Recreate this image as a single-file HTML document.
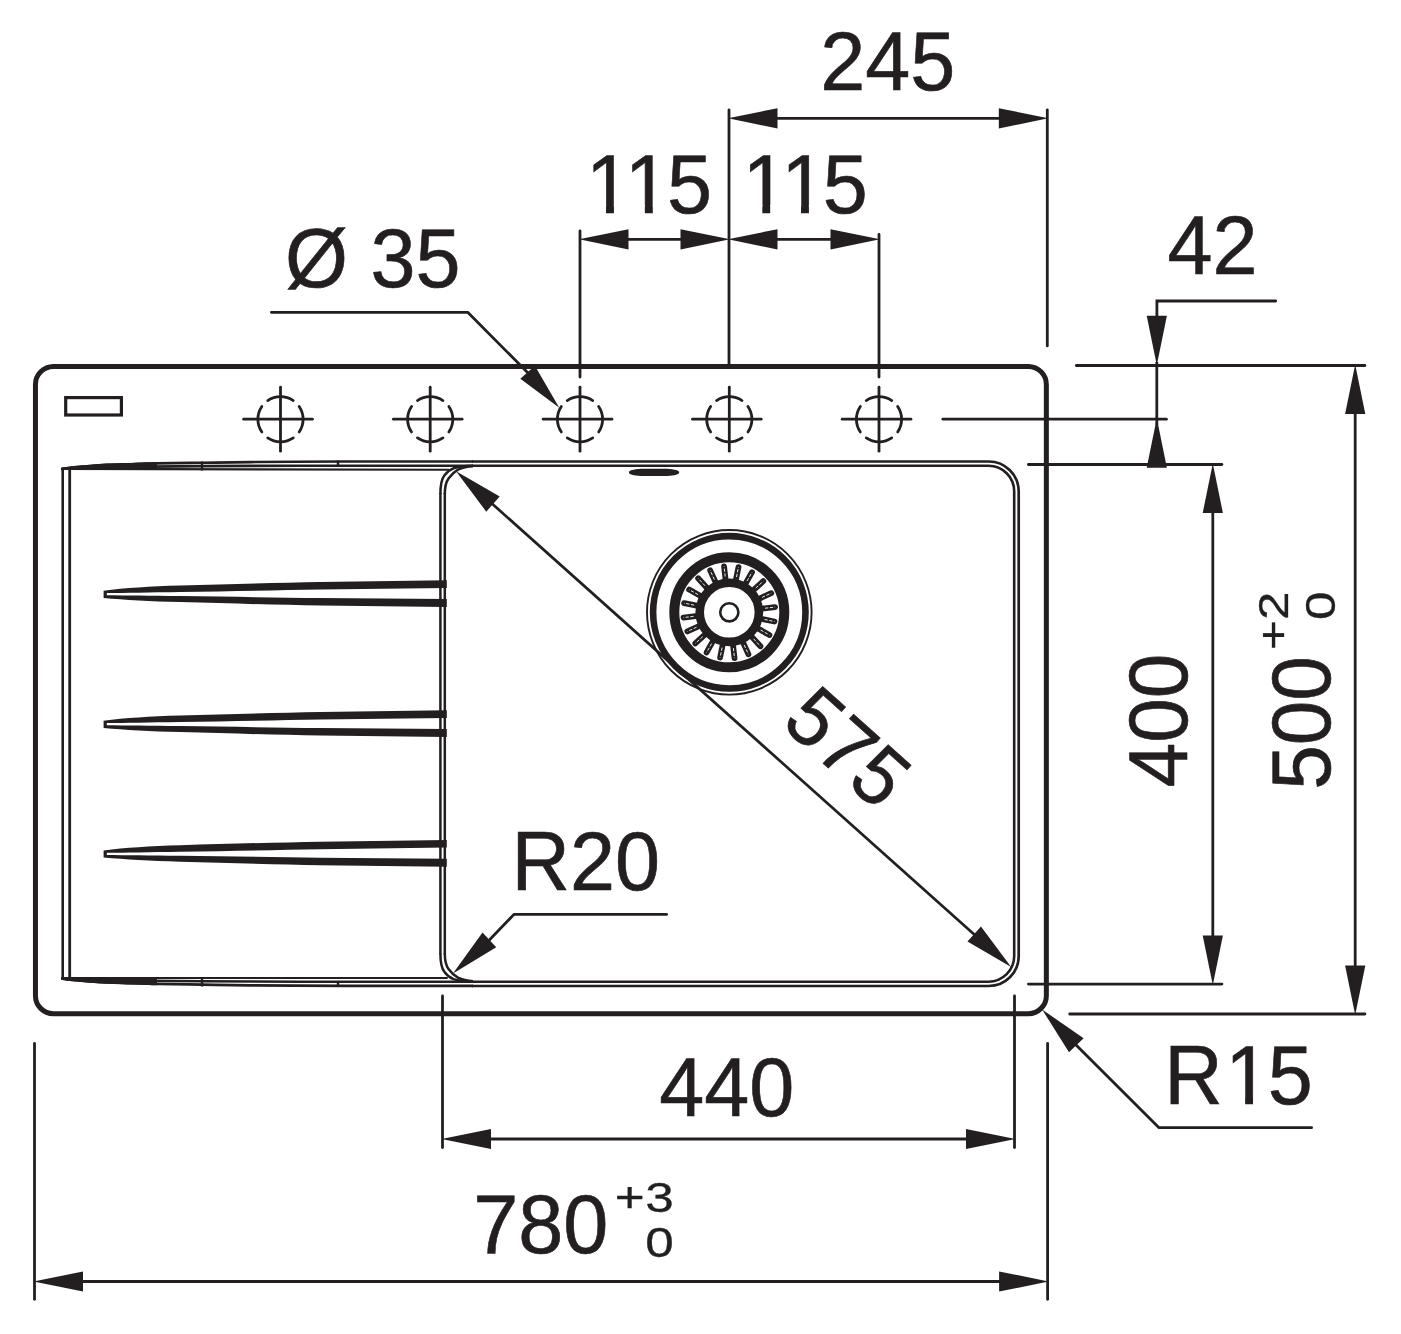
<!DOCTYPE html>
<html lang="en"><head><meta charset="utf-8"><title>Sink drawing 780 x 500</title>
<style>
html,body{margin:0;padding:0;background:#fff;}
svg{display:block;}
.s{fill:none;stroke:#231f20;}
.f{fill:#231f20;stroke:none;}
text{font-family:"Liberation Sans",sans-serif;fill:#231f20;stroke:#231f20;stroke-width:0.6px;}
text.t{stroke-width:0.3px;filter:grayscale(1);}
</style></head><body>
<svg width="1401" height="1334" viewBox="0 0 1401 1334">
<rect x="0" y="0" width="1401" height="1334" fill="#fff"/>
<g class="s">
<rect x="35.45" y="366.55" width="1010.9" height="647.1" rx="18" ry="18" stroke-width="5"/>
<rect x="65.7" y="397.6" width="55.7" height="17.4" stroke-width="3.2"/>
<path d="M472,461.5 H988.7 A30,30 0 0 1 1018.7,491.5 V956 A30,30 0 0 1 988.7,986 H472" stroke-width="2.7"/>
<path d="M472,465.7 H988.5 A25.7,25.7 0 0 1 1014.2,491.4 V956 A25.7,25.7 0 0 1 988.5,981.7 H472" stroke-width="2.6"/>
<path d="M440.4,494 C440.4,484 442,478.5 444.5,475.3 C446.5,472.5 449.5,469.8 453.5,468.3 C459,466.5 466,465.9 473,465.7" stroke-width="2.5"/>
<path d="M444.8,494 C444.8,486 446,482 448.5,478.5 C451,475 454,472 458,469.7 C462,467.7 467,466.5 473,466.2" stroke-width="2.5"/>
<path d="M440.4,953.4 C440.4,963.4 442,968.9 444.5,972.1 C446.5,974.9 449.5,977.6 453.5,979.1 C459,980.9 466,981.5 473,981.7" stroke-width="2.5"/>
<path d="M444.8,953.4 C444.8,961.4 446,965.4 448.5,968.9 C451,972.4 454,975.4 458,977.7 C462,979.7 467,980.9 473,981.2" stroke-width="2.5"/>
<line x1="440.4" y1="493" x2="440.4" y2="954.4" stroke-width="2.5" stroke-linecap="butt" />
<line x1="444.8" y1="493" x2="444.8" y2="954.4" stroke-width="2.5" stroke-linecap="butt" />
<line x1="62.7" y1="468" x2="62.7" y2="979" stroke-width="2.6" stroke-linecap="butt" />
<line x1="69.7" y1="468" x2="69.7" y2="979" stroke-width="2.8" stroke-linecap="butt" />
<path d="M61.3,469.05 C62.75,468.83 65.22,468.25 70,467.75 C74.78,467.25 83.83,466.52 90,466.05 C96.17,465.58 100.33,465.25 107,464.95 C113.67,464.65 121.67,464.50 130,464.25 C138.33,464.00 145.00,463.70 157,463.45 C169.00,463.20 186.50,462.98 202,462.75 C217.50,462.52 226.17,462.26 250,462.05 C273.83,461.84 329.17,461.59 345,461.5 H473" stroke-width="2.7"/>
<path d="M150,466.6 C200,466.1 260,465.7 300,465.7 H473" stroke-width="2.6"/>
<path d="M61.3,468.9 L449,469.8" stroke-width="2.1"/>
<path d="M61.3,467.7 C62.75,467.48 65.22,466.90 70,466.4 C74.78,465.90 83.83,465.17 90,464.7 C96.17,464.23 100.33,463.90 107,463.6 C113.67,463.30 121.67,463.15 130,462.9 C138.33,462.65 152.50,462.23 157,462.1 V469.9 H61.3 Z" fill="#231f20" stroke="none"/>
<path d="M61.3,978.35 C62.75,978.57 65.22,979.15 70,979.65 C74.78,980.15 83.83,980.88 90,981.35 C96.17,981.82 100.33,982.15 107,982.45 C113.67,982.75 121.67,982.90 130,983.15 C138.33,983.40 145.00,983.70 157,983.95 C169.00,984.20 186.50,984.42 202,984.65 C217.50,984.88 226.17,985.14 250,985.35 C273.83,985.56 329.17,985.81 345,985.9 H473" stroke-width="2.7"/>
<path d="M150,980.8 C200,981.3 260,981.7 300,981.7 H473" stroke-width="2.6"/>
<path d="M61.3,978.0 L447.7,978.0" stroke-width="2.1"/>
<path d="M61.3,979.7 C62.75,979.92 65.22,980.50 70,981.0 C74.78,981.50 83.83,982.23 90,982.7 C96.17,983.17 100.33,983.50 107,983.8 C113.67,984.10 121.67,984.25 130,984.5 C138.33,984.75 152.50,985.17 157,985.3 V977.0 H61.3 Z" fill="#231f20" stroke="none"/>
<line x1="202" y1="461.5" x2="202" y2="470.5" stroke-width="2.4" stroke-linecap="butt" />
<line x1="338" y1="460.5" x2="338" y2="466.5" stroke-width="2.4" stroke-linecap="butt" />
<line x1="202" y1="977.5" x2="202" y2="986.5" stroke-width="2.4" stroke-linecap="butt" />
<line x1="338" y1="981" x2="338" y2="987" stroke-width="2.4" stroke-linecap="butt" />
</g>
<g class="f">
<path d="M628.9,472.4 C628.9,470.4 633,469.5 641,468.8 H667 C675,469.5 679.2,470.4 679.2,472.4 C679.2,474.4 675,475.3 667,476 H641 C633,475.3 628.9,474.4 628.9,472.4 Z"/>
</g>
<g class="f">
<path d="M103.6,590.7 C125,588.0 150,586.4 180,585.5 C230,583.9 280,582.8 320,582.0 L446.8,580.3 V587.9 L320,589.5 C280,590.3 230,591.2 180,592.0 C150,592.5 125,592.9 106.8,593.1 V595.2 C125,595.4 150,595.7 180,596.1 C230,596.8 280,597.5 320,598.1 L446.8,599.1 V607.1 L320,605.6 C280,604.8 230,603.6 180,602.1 C150,601.2 125,599.9 103.6,597.9 Z"/>
<path d="M103.6,720.7 C125,718.0 150,716.4 180,715.5 C230,713.9 280,712.8 320,712.0 L446.8,710.3 V717.9 L320,719.5 C280,720.3 230,721.2 180,722.0 C150,722.5 125,722.9 106.8,723.1 V725.2 C125,725.4 150,725.7 180,726.1 C230,726.8 280,727.5 320,728.1 L446.8,729.1 V737.1 L320,735.6 C280,734.8 230,733.6 180,732.1 C150,731.2 125,729.9 103.6,727.9 Z"/>
<path d="M103.6,850.4 C125,847.7 150,846.1 180,845.2 C230,843.6 280,842.5 320,841.7 L446.8,840.0 V847.6 L320,849.2 C280,850.0 230,850.9 180,851.7 C150,852.2 125,852.6 106.8,852.8 V854.9 C125,855.1 150,855.4 180,855.8 C230,856.5 280,857.2 320,857.8 L446.8,858.8 V866.8 L320,865.3 C280,864.5 230,863.3 180,861.8 C150,860.9 125,859.6 103.6,857.6 Z"/>
</g>
<g class="s">
<line x1="243.7" y1="419.2" x2="312.4" y2="419.2" stroke-width="2.8" stroke-linecap="round" />
<line x1="280.5" y1="387.2" x2="280.5" y2="451.2" stroke-width="2.8" stroke-linecap="round" />
<circle cx="280.5" cy="419.2" r="22.6" stroke-width="2.8" stroke-linecap="round" pathLength="360" stroke-dasharray="69 21" stroke-dashoffset="34.5"/>
<line x1="393.4" y1="419.2" x2="462.1" y2="419.2" stroke-width="2.8" stroke-linecap="round" />
<line x1="430.2" y1="387.2" x2="430.2" y2="451.2" stroke-width="2.8" stroke-linecap="round" />
<circle cx="430.2" cy="419.2" r="22.6" stroke-width="2.8" stroke-linecap="round" pathLength="360" stroke-dasharray="69 21" stroke-dashoffset="34.5"/>
<line x1="543.2" y1="419.2" x2="611.9" y2="419.2" stroke-width="2.8" stroke-linecap="round" />
<line x1="580.0" y1="387.2" x2="580.0" y2="451.2" stroke-width="2.8" stroke-linecap="round" />
<circle cx="580" cy="419.2" r="22.6" stroke-width="2.8" stroke-linecap="round" pathLength="360" stroke-dasharray="69 21" stroke-dashoffset="34.5"/>
<line x1="692.5" y1="419.2" x2="761.2" y2="419.2" stroke-width="2.8" stroke-linecap="round" />
<line x1="729.3" y1="387.2" x2="729.3" y2="451.2" stroke-width="2.8" stroke-linecap="round" />
<circle cx="729.3" cy="419.2" r="22.6" stroke-width="2.8" stroke-linecap="round" pathLength="360" stroke-dasharray="69 21" stroke-dashoffset="34.5"/>
<line x1="842.2" y1="419.2" x2="910.9" y2="419.2" stroke-width="2.8" stroke-linecap="round" />
<line x1="879.0" y1="387.2" x2="879.0" y2="451.2" stroke-width="2.8" stroke-linecap="round" />
<circle cx="879" cy="419.2" r="22.6" stroke-width="2.8" stroke-linecap="round" pathLength="360" stroke-dasharray="69 21" stroke-dashoffset="34.5"/>
</g>
<g>
<circle class="s" cx="729.3" cy="612.3" r="82.3" stroke-width="1.9"/>
<circle class="s" cx="729.3" cy="612.3" r="76.2" stroke-width="6.6"/>
<circle class="s" cx="729.3" cy="612.3" r="55" stroke-width="10"/>
<circle class="s" cx="729.3" cy="612.3" r="29.6" stroke-width="8.6"/>
<circle class="s" cx="729.3" cy="612.3" r="9.1" stroke-width="2.6"/>
<line x1="725.68" y1="580.51" x2="724.08" y2="566.50" stroke="#231f20" stroke-width="5.8" stroke-linecap="round"/>
<line x1="725.22" y1="576.53" x2="724.08" y2="566.50" stroke="#fff" stroke-width="0.9" stroke-dasharray="3.2 1.6" stroke-linecap="butt"/>
<line x1="735.68" y1="580.94" x2="738.49" y2="567.13" stroke="#231f20" stroke-width="5.8" stroke-linecap="round"/>
<line x1="736.48" y1="577.02" x2="738.49" y2="567.13" stroke="#fff" stroke-width="0.9" stroke-dasharray="3.2 1.6" stroke-linecap="butt"/>
<line x1="745.06" y1="584.45" x2="752.00" y2="572.18" stroke="#231f20" stroke-width="5.8" stroke-linecap="round"/>
<line x1="747.03" y1="580.97" x2="752.00" y2="572.18" stroke="#fff" stroke-width="0.9" stroke-dasharray="3.2 1.6" stroke-linecap="butt"/>
<line x1="752.89" y1="590.68" x2="763.29" y2="581.16" stroke="#231f20" stroke-width="5.8" stroke-linecap="round"/>
<line x1="755.84" y1="587.98" x2="763.29" y2="581.16" stroke="#fff" stroke-width="0.9" stroke-dasharray="3.2 1.6" stroke-linecap="butt"/>
<line x1="758.42" y1="599.03" x2="771.25" y2="593.18" stroke="#231f20" stroke-width="5.8" stroke-linecap="round"/>
<line x1="762.06" y1="597.37" x2="771.25" y2="593.18" stroke="#fff" stroke-width="0.9" stroke-dasharray="3.2 1.6" stroke-linecap="butt"/>
<line x1="761.09" y1="608.68" x2="775.10" y2="607.08" stroke="#231f20" stroke-width="5.8" stroke-linecap="round"/>
<line x1="765.07" y1="608.22" x2="775.10" y2="607.08" stroke="#fff" stroke-width="0.9" stroke-dasharray="3.2 1.6" stroke-linecap="butt"/>
<line x1="760.66" y1="618.68" x2="774.47" y2="621.49" stroke="#231f20" stroke-width="5.8" stroke-linecap="round"/>
<line x1="764.58" y1="619.48" x2="774.47" y2="621.49" stroke="#fff" stroke-width="0.9" stroke-dasharray="3.2 1.6" stroke-linecap="butt"/>
<line x1="757.15" y1="628.06" x2="769.42" y2="635.00" stroke="#231f20" stroke-width="5.8" stroke-linecap="round"/>
<line x1="760.63" y1="630.03" x2="769.42" y2="635.00" stroke="#fff" stroke-width="0.9" stroke-dasharray="3.2 1.6" stroke-linecap="butt"/>
<line x1="750.92" y1="635.89" x2="760.44" y2="646.29" stroke="#231f20" stroke-width="5.8" stroke-linecap="round"/>
<line x1="753.62" y1="638.84" x2="760.44" y2="646.29" stroke="#fff" stroke-width="0.9" stroke-dasharray="3.2 1.6" stroke-linecap="butt"/>
<line x1="742.57" y1="641.42" x2="748.42" y2="654.25" stroke="#231f20" stroke-width="5.8" stroke-linecap="round"/>
<line x1="744.23" y1="645.06" x2="748.42" y2="654.25" stroke="#fff" stroke-width="0.9" stroke-dasharray="3.2 1.6" stroke-linecap="butt"/>
<line x1="732.92" y1="644.09" x2="734.52" y2="658.10" stroke="#231f20" stroke-width="5.8" stroke-linecap="round"/>
<line x1="733.38" y1="648.07" x2="734.52" y2="658.10" stroke="#fff" stroke-width="0.9" stroke-dasharray="3.2 1.6" stroke-linecap="butt"/>
<line x1="722.92" y1="643.66" x2="720.11" y2="657.47" stroke="#231f20" stroke-width="5.8" stroke-linecap="round"/>
<line x1="722.12" y1="647.58" x2="720.11" y2="657.47" stroke="#fff" stroke-width="0.9" stroke-dasharray="3.2 1.6" stroke-linecap="butt"/>
<line x1="713.54" y1="640.15" x2="706.60" y2="652.42" stroke="#231f20" stroke-width="5.8" stroke-linecap="round"/>
<line x1="711.57" y1="643.63" x2="706.60" y2="652.42" stroke="#fff" stroke-width="0.9" stroke-dasharray="3.2 1.6" stroke-linecap="butt"/>
<line x1="705.71" y1="633.92" x2="695.31" y2="643.44" stroke="#231f20" stroke-width="5.8" stroke-linecap="round"/>
<line x1="702.76" y1="636.62" x2="695.31" y2="643.44" stroke="#fff" stroke-width="0.9" stroke-dasharray="3.2 1.6" stroke-linecap="butt"/>
<line x1="700.18" y1="625.57" x2="687.35" y2="631.42" stroke="#231f20" stroke-width="5.8" stroke-linecap="round"/>
<line x1="696.54" y1="627.23" x2="687.35" y2="631.42" stroke="#fff" stroke-width="0.9" stroke-dasharray="3.2 1.6" stroke-linecap="butt"/>
<line x1="697.51" y1="615.92" x2="683.50" y2="617.52" stroke="#231f20" stroke-width="5.8" stroke-linecap="round"/>
<line x1="693.53" y1="616.38" x2="683.50" y2="617.52" stroke="#fff" stroke-width="0.9" stroke-dasharray="3.2 1.6" stroke-linecap="butt"/>
<line x1="697.94" y1="605.92" x2="684.13" y2="603.11" stroke="#231f20" stroke-width="5.8" stroke-linecap="round"/>
<line x1="694.02" y1="605.12" x2="684.13" y2="603.11" stroke="#fff" stroke-width="0.9" stroke-dasharray="3.2 1.6" stroke-linecap="butt"/>
<line x1="701.45" y1="596.54" x2="689.18" y2="589.60" stroke="#231f20" stroke-width="5.8" stroke-linecap="round"/>
<line x1="697.97" y1="594.57" x2="689.18" y2="589.60" stroke="#fff" stroke-width="0.9" stroke-dasharray="3.2 1.6" stroke-linecap="butt"/>
<line x1="707.68" y1="588.71" x2="698.16" y2="578.31" stroke="#231f20" stroke-width="5.8" stroke-linecap="round"/>
<line x1="704.98" y1="585.76" x2="698.16" y2="578.31" stroke="#fff" stroke-width="0.9" stroke-dasharray="3.2 1.6" stroke-linecap="butt"/>
<line x1="716.03" y1="583.18" x2="710.18" y2="570.35" stroke="#231f20" stroke-width="5.8" stroke-linecap="round"/>
<line x1="714.37" y1="579.54" x2="710.18" y2="570.35" stroke="#fff" stroke-width="0.9" stroke-dasharray="3.2 1.6" stroke-linecap="butt"/>
</g>
<g class="s">
<line x1="470" y1="483.95" x2="1000" y2="957.45" stroke-width="2.7" stroke-linecap="butt" />
</g>
<polygon class="f" points="456.05,471.13 499.70,496.58 486.24,511.65"/>
<polygon class="f" points="1011.15,967.07 967.50,941.62 980.96,926.55"/>
<g class="s">
<line x1="729.0" y1="109.9" x2="729.0" y2="363.6" stroke-width="2.8" stroke-linecap="round" />
<line x1="1047.3" y1="109.9" x2="1047.3" y2="345.9" stroke-width="2.8" stroke-linecap="round" />
<line x1="775" y1="118.3" x2="1000" y2="118.3" stroke-width="2.8" stroke-linecap="butt" />
<line x1="580.0" y1="230.9" x2="580.0" y2="377.1" stroke-width="2.8" stroke-linecap="round" />
<line x1="879.0" y1="234.4" x2="879.0" y2="377.1" stroke-width="2.8" stroke-linecap="round" />
<line x1="626" y1="239.3" x2="683" y2="239.3" stroke-width="2.8" stroke-linecap="butt" />
<line x1="775" y1="239.3" x2="833" y2="239.3" stroke-width="2.8" stroke-linecap="butt" />
<polyline points="271.4,312.3 467.7,312.3 530,375" stroke-width="2.8" stroke-linecap="round" stroke-linejoin="round"/>
<polyline points="1275.7,301 1156.9,301 1156.9,318" stroke-width="2.8" stroke-linecap="round" stroke-linejoin="miter"/>
<line x1="1156.8" y1="362" x2="1156.8" y2="425" stroke-width="2.8" stroke-linecap="butt" />
<line x1="1076.4" y1="365.5" x2="1364.9" y2="365.5" stroke-width="2.8" stroke-linecap="round" />
<line x1="942.9" y1="419.2" x2="1166.4" y2="419.2" stroke-width="2.8" stroke-linecap="round" />
<line x1="1028.4" y1="464.5" x2="1221.9" y2="464.5" stroke-width="2.8" stroke-linecap="round" />
<line x1="1212.8" y1="510" x2="1212.8" y2="940" stroke-width="2.8" stroke-linecap="butt" />
<line x1="1028.4" y1="984.1" x2="1221.9" y2="984.1" stroke-width="2.8" stroke-linecap="round" />
<line x1="1355.2" y1="410" x2="1355.2" y2="970" stroke-width="2.8" stroke-linecap="butt" />
<line x1="1069.7" y1="1014.0" x2="1364.9" y2="1014.0" stroke-width="2.8" stroke-linecap="round" />
<line x1="442.5" y1="995.9" x2="442.5" y2="1147.6" stroke-width="2.8" stroke-linecap="round" />
<line x1="1014.5" y1="995.9" x2="1014.5" y2="1147.6" stroke-width="2.8" stroke-linecap="round" />
<line x1="488" y1="1139" x2="969" y2="1139" stroke-width="2.8" stroke-linecap="butt" />
<line x1="34.5" y1="1043.4" x2="34.5" y2="1299.3" stroke-width="2.8" stroke-linecap="round" />
<line x1="1047.6" y1="1043.4" x2="1047.6" y2="1299.3" stroke-width="2.8" stroke-linecap="round" />
<line x1="80" y1="1281.5" x2="1002" y2="1281.5" stroke-width="2.8" stroke-linecap="butt" />
<polyline points="666.6,914.4 514,914.4 485,944.5" stroke-width="2.8" stroke-linecap="round" stroke-linejoin="round"/>
<polyline points="1311.6,1127.7 1159,1127.7 1072,1041" stroke-width="2.8" stroke-linecap="round" stroke-linejoin="round"/>
</g>
<polygon class="f" points="728.00,118.30 777.50,108.20 777.50,128.40"/>
<polygon class="f" points="1048.30,118.30 998.80,128.40 998.80,108.20"/>
<polygon class="f" points="579.00,239.30 628.50,229.20 628.50,249.40"/>
<polygon class="f" points="730.00,239.30 680.50,249.40 680.50,229.20"/>
<polygon class="f" points="728.00,239.30 777.50,229.20 777.50,249.40"/>
<polygon class="f" points="880.00,239.30 830.50,249.40 830.50,229.20"/>
<polygon class="f" points="559.27,407.75 520.34,378.83 534.88,365.83"/>
<polygon class="f" points="1156.80,365.20 1146.70,315.70 1166.90,315.70"/>
<polygon class="f" points="1156.80,418.20 1166.90,467.70 1146.70,467.70"/>
<polygon class="f" points="1212.80,463.50 1222.90,513.00 1202.70,513.00"/>
<polygon class="f" points="1212.80,985.10 1202.70,935.60 1222.90,935.60"/>
<polygon class="f" points="1355.20,364.50 1365.30,414.00 1345.10,414.00"/>
<polygon class="f" points="1355.20,1015.00 1345.10,965.50 1365.30,965.50"/>
<polygon class="f" points="441.50,1139.00 491.00,1128.90 491.00,1149.10"/>
<polygon class="f" points="1015.50,1139.00 966.00,1149.10 966.00,1128.90"/>
<polygon class="f" points="33.50,1281.50 83.00,1271.40 83.00,1291.60"/>
<polygon class="f" points="1048.60,1281.50 999.10,1291.60 999.10,1271.40"/>
<polygon class="f" points="452.96,973.38 482.52,932.40 496.21,947.26"/>
<polygon class="f" points="1042.11,1009.48 1083.60,1038.29 1069.00,1052.25"/>
<text x="0" y="0" font-size="80" transform="translate(820.2,90.3) scale(1.012,1.038)">245</text>
<text x="0" y="0" dx="3 -0.4 -2.6" font-size="80" transform="translate(583,212.6) scale(1.012,1.038)">115</text>
<text x="0" y="0" dx="3.9 -0.4 -3.5" font-size="80" transform="translate(738.6,212.6) scale(1.012,1.038)">115</text>
<text x="0" y="0" font-size="80" transform="translate(285,286.7) scale(1.012,1.038)">Ø 35</text>
<text x="0" y="0" font-size="80" transform="translate(1167.4,274.4) scale(1.012,1.038)">42</text>
<text x="0" y="0" font-size="80" transform="translate(511.5,890) scale(1.012,1.038)">R20</text>
<text x="0" y="0" font-size="80" transform="translate(659.2,1116) scale(1.012,1.038)">440</text>
<text x="0" y="0" font-size="80" transform="translate(473.3,1253) scale(1.012,1.038)">780</text>
<text x="0" y="0" dx="0.6 0.4" font-size="42" transform="translate(614,1211.5) scale(1.22,1.0)" class="t">+3</text>
<text x="0" y="0" font-size="42" transform="translate(645.2,1257.1) scale(1.22,1.0)" class="t">0</text>
<text x="0" y="0" dx="0 2.5 -2.5" font-size="80" transform="translate(1164.3,1104) scale(1.012,1.038)">R15</text>
<text x="0" y="0" font-size="80" transform="translate(1187.3,787.2) rotate(-90) scale(1.0,1.038)">400</text>
<text x="0" y="0" font-size="80" transform="translate(1330,789.7) rotate(-90) scale(1.0,1.038)">500</text>
<text x="0" y="0" font-size="42" transform="translate(1288.2,650) rotate(-90) scale(1.22,1.0)" class="t">+2</text>
<text x="0" y="0" font-size="42" transform="translate(1334.8,620) rotate(-90) scale(1.22,1.0)" class="t">0</text>
<text x="0" y="0" font-size="80" transform="translate(779.85,724.7) rotate(41.78) scale(0.985,1.038)">575</text>
<rect x="590.91" y="205.00" width="15.1" height="10" fill="#fff"/>
<rect x="613.94" y="205.00" width="14.6" height="10" fill="#fff"/>
<rect x="629.74" y="205.00" width="15.1" height="10" fill="#fff"/>
<rect x="652.80" y="205.00" width="14.6" height="10" fill="#fff"/>
<rect x="747.22" y="205.00" width="15.1" height="10" fill="#fff"/>
<rect x="770.19" y="205.00" width="14.6" height="10" fill="#fff"/>
<rect x="785.92" y="205.00" width="15.1" height="10" fill="#fff"/>
<rect x="808.93" y="205.00" width="14.6" height="10" fill="#fff"/>
<rect x="1230.02" y="1097.00" width="15.1" height="9" fill="#fff"/>
<rect x="1253.03" y="1097.00" width="14.6" height="9" fill="#fff"/>
</svg>
</body></html>
